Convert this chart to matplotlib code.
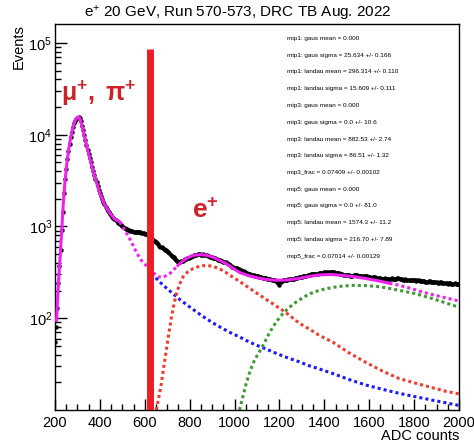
"""Muon/pion and e+ ADC spectrum from the DRC test beam with the Landau fit components."""

import numpy as np
from matplotlib import pyplot as plt
from matplotlib.ticker import MultipleLocator, LogLocator, FixedLocator

plt.rcParams['font.family'] = ['Liberation Sans', 'DejaVu Sans']
plt.rcParams['mathtext.fontset'] = 'custom'
plt.rcParams['mathtext.rm'] = 'Liberation Sans'
plt.rcParams['mathtext.it'] = 'Liberation Sans:italic'
plt.rcParams['mathtext.bf'] = 'Liberation Sans:bold'

# histogram, 10 ADC bins from 200 to 2000
ADC_START, ADC_STEP = 200, 10
COUNTS = [
    55, 128, 372, 905, 2330, 4280, 6650, 9350, 12050, 14250,
    15400, 15100, 12600, 9900, 7750, 6150, 5020, 4060, 3330, 2770,
    2290, 1990, 1760, 1560, 1430, 1320, 1240, 1170, 1100, 1060,
    1005, 962, 930, 905, 893, 878, 874, 865, 861, 848,
    838, 826, 800, 735, 702, 684, 640, 602, 583, 556,
    540, 510, 478, 462, 430, 408, 418, 425, 440, 452,
    462, 473, 486, 491, 502, 495, 497, 488, 481, 470,
    463, 452, 441, 428, 425, 414, 410, 394, 382, 364,
    356, 349, 345, 334, 326, 314, 306, 301, 296, 292,
    291, 284, 281, 274, 272, 266, 266, 261, 258, 251,
    232, 256, 261, 259, 266, 270, 268, 274, 276, 282,
    284, 291, 289, 297, 300, 302, 307, 306, 310, 313,
    316, 320, 314, 319, 322, 315, 312, 305, 301, 298,
    293, 296, 289, 294, 297, 290, 292, 288, 291, 286,
    283, 278, 285, 276, 271, 274, 268, 272, 266, 270,
    272, 265, 268, 275, 269, 263, 266, 262, 264, 258,
    261, 256, 259, 253, 256, 251, 249, 254, 247, 250,
    246, 243, 248, 241, 244, 239, 242, 237, 240, 236,
    238,
]
COUNTS_ALT = [
    80, 240, 560, 1450, 3300, 5400, 8000, 10700, 13300, 14900,
    15500, 14000, 11200, 8800, 6900, 5550, 4500, 3650, 3020, 2500,
    2130, 1870, 1650, 1490, 1370, 1280, 1200, 1135, 1080, 1030,
    985, 946, 918, 898, 886, 872, 869, 862, 852, 844,
    830, 815, 760, 718, 692, 662, 620, 592, 570, 548,
    525, 492, 470, 445, 418, 412, 422, 433, 446, 458,
    469, 480, 495, 498, 500, 490, 494, 484, 476, 468,
    457, 448, 434, 426, 420, 412, 402, 388, 373, 360,
    353, 347, 339, 330, 320, 310, 303, 298, 294, 290,
    287, 282, 278, 273, 269, 266, 263, 259, 255, 241,
    248, 258, 258, 264, 268, 267, 271, 275, 279, 283,
    288, 290, 295, 298, 303, 305, 306, 309, 312, 315,
    318, 317, 318, 323, 318, 312, 308, 303, 299, 296,
    294, 292, 292, 296, 293, 291, 290, 289, 288, 284,
    281, 282, 279, 273, 273, 271, 270, 269, 268, 271,
    268, 266, 272, 271, 266, 264, 264, 263, 261, 260,
    258, 258, 255, 255, 253, 250, 252, 250, 248, 248,
    244, 246, 244, 242, 241, 240, 239, 238, 238, 237,
]

# total fit, drawn in pieces (solid = fit range, dotted = outside)
FIT1_X = [207, 212, 218, 224, 230, 237, 244, 252, 260, 268, 276, 284, 292, 300, 307,
          314, 322, 330, 340, 350, 360, 370, 385, 400, 420, 444, 465, 489]
FIT1_Y = [95, 170, 310, 520, 900, 1800, 3000, 4700, 6700, 8800, 11000, 13000, 14600, 15500, 15600,
          14300, 12000, 9800, 7800, 6200, 5000, 4000, 3000, 2300, 1750, 1400, 1210, 1120]
FIT2_X = [489, 510, 535, 560, 580, 600, 620, 640, 660, 680, 700, 715, 730, 748]
FIT2_Y = [1120, 920, 720, 540, 440, 390, 345, 310, 283, 281, 293, 312, 340, 377]
FIT3_X = [748, 770, 790, 810, 830, 850, 870, 890, 910, 935, 963, 990, 1022, 1060, 1100,
          1140, 1185, 1230, 1280, 1330, 1380, 1430, 1480, 1530, 1585, 1640, 1690]
FIT3_Y = [377, 422, 455, 478, 490, 493, 488, 475, 455, 425, 393, 355, 316, 292, 276,
          265, 259, 261, 270, 285, 297, 300, 293, 284, 271, 256, 240]
FIT4_X = [1690, 1733, 1790, 1837, 1900, 1950, 1995]
FIT4_Y = [240, 229, 210, 193, 176, 165, 155]

# mip1 component (blue)
MIP1_X = [615, 630, 644, 667, 695, 726, 760, 800, 835, 874, 910, 948, 985, 1022, 1060,
          1096, 1133, 1170, 1207, 1244, 1289, 1330, 1378, 1437, 1510, 1585, 1660, 1733,
          1810, 1881, 1940, 2000]
MIP1_Y = [350, 320, 285, 248, 215, 185, 157, 133, 115, 99, 87, 77, 69, 62.6, 56,
          51, 47, 43, 39.5, 36.5, 33.5, 30.5, 28, 25, 21.5, 18.7, 16.8, 15.2,
          13.9, 12.8, 12, 11.2]

# mip3 component (red)
MIP3_X = [652, 663, 674, 685, 696, 707, 719, 730, 741, 755, 770, 792, 815, 845, 874,
          903, 933, 962, 992, 1035, 1081, 1125, 1170, 1210, 1244, 1289, 1330, 1378,
          1437, 1510, 1585, 1660, 1733, 1810, 1881, 1940, 2000]
MIP3_Y = [10, 14, 19.5, 30, 45, 68, 103, 142, 185, 235, 281, 322, 348, 370, 377,
          368, 346, 315, 281, 240, 201, 170, 144, 124, 108, 88, 77, 65,
          55, 42, 33, 26.5, 22, 19.5, 17.5, 16, 15]

# mip5 component (green)
MIP5_X = [1022, 1037, 1052, 1070, 1089, 1108, 1126, 1148, 1170, 1193, 1215, 1245, 1274,
          1305, 1333, 1378, 1437, 1480, 1526, 1580, 1630, 1680, 1740, 1807, 1870, 1930, 1995]
MIP5_Y = [10, 14, 19.5, 27, 35, 42, 50, 64, 80, 96, 112, 132, 150,
          168, 184, 202, 217, 224, 228, 227, 223, 214, 200, 185, 167, 150, 133]

# cut between mu/pi and e+
CUT_ADC = 622
CUT_TOP = 8.6e4

Y_MAJOR = [1e2, 1e3, 1e4, 1e5]

FIT_PARAMS = [
    "mip1: gaus mean = 0.000",
    "mip1: gaus sigma = 25.634 +/- 0.166",
    "mip1: landau mean = 296.314 +/- 0.110",
    "mip1: landau sigma = 15.609 +/- 0.111",
    "mip3: gaus mean = 0.000",
    "mip3: gaus sigma = 0.0 +/- 10.6",
    "mip3: landau mean = 882.53 +/- 2.74",
    "mip3: landau sigma = 86.51 +/- 1.32",
    "mip3_frac = 0.07409 +/- 0.00102",
    "mip5: gaus mean = 0.000",
    "mip5: gaus sigma = 0.0 +/- 81.0",
    "mip5: landau mean = 1574.3 +/- 11.2",
    "mip5: landau sigma = 216.70 +/- 7.89",
    "mip5_frac = 0.07014 +/- 0.00129",
]

W, H = 474, 444
DOTTED = (0, (1, 1))
MAGENTA = '#ee22ee'
LABEL_RED = '#cc2229'


def main():
    fig = plt.figure(figsize=(W / 100, H / 100), dpi=100)
    ax = fig.add_axes([55 / W, 1 - 410 / H, 404 / W, 386 / H])

    adc = ADC_START + ADC_STEP * np.arange(len(COUNTS))
    ax.plot(adc, COUNTS, 'o', color='black', ms=3.2, mew=0, zorder=3)
    ax.plot(adc[:len(COUNTS_ALT)] + ADC_STEP / 2, COUNTS_ALT, 'o', color='black',
            ms=3.2, mew=0, zorder=3)

    # components
    ax.plot(MIP1_X, MIP1_Y, color='#1a1aff', lw=2.2, ls=DOTTED, zorder=2)
    ax.plot(MIP3_X, MIP3_Y, color='#f03c2e', lw=2.2, ls=DOTTED, zorder=2)
    ax.plot(MIP5_X, MIP5_Y, color='#3f9a35', lw=2.2, ls=DOTTED, zorder=2)

    # total fit
    ax.plot(FIT1_X, FIT1_Y, color=MAGENTA, lw=2.2, zorder=4)
    ax.plot(FIT2_X, FIT2_Y, color=MAGENTA, lw=2.2, ls=DOTTED, zorder=4)
    ax.plot(FIT3_X, FIT3_Y, color=MAGENTA, lw=2.2, zorder=4)
    ax.plot(FIT4_X, FIT4_Y, color=MAGENTA, lw=2.2, ls=DOTTED, zorder=4)

    ax.plot([CUT_ADC, CUT_ADC], [10, CUT_TOP], color='#ee1c25', lw=5,
            solid_capstyle='butt', zorder=5)

    ax.set_yscale('log')
    ax.set_xlim(200, 2000)
    ax.set_ylim(10, 1.61e5)
    ax.xaxis.set_major_locator(MultipleLocator(200))
    ax.xaxis.set_minor_locator(MultipleLocator(50))
    ax.yaxis.set_major_locator(FixedLocator(Y_MAJOR))
    ax.yaxis.set_minor_locator(LogLocator(base=10, subs=np.arange(2, 10)))
    ax.set_yticklabels([r'$10^{%d}$' % round(np.log10(v)) for v in Y_MAJOR])
    ax.tick_params(which='both', direction='in', top=False, right=False,
                   labelsize=10.5, width=1)
    ax.tick_params(axis='x', which='major', length=8, pad=4)
    ax.tick_params(axis='x', which='minor', length=4)
    ax.tick_params(axis='y', which='major', length=8.5, pad=2)
    ax.tick_params(axis='y', which='minor', length=4.3)
    for s in ax.spines.values():
        s.set_linewidth(1)

    for i, line in enumerate(FIT_PARAMS):
        fig.text(287 / W, 1 - (38.5 + 16.75 * i) / H, line, fontsize=4.6,
                 ha='left', va='center')

    ax.text(0.016, 0.82, r'$\mathbf{\mu^{+},\ \pi^{+}}$', transform=ax.transAxes,
            fontsize=18, color=LABEL_RED, ha='left', va='center')
    ax.text(0.34, 0.515, r'$\mathbf{e^{+}}$', transform=ax.transAxes, fontsize=19,
            color=LABEL_RED, ha='left', va='center')

    fig.text(238 / W, 1 - 13 / H, r'e$^{+}$ 20 GeV, Run 570-573, DRC TB Aug. 2022',
             fontsize=11, ha='center', va='center')
    fig.text(19 / W, 1 - 24 / H, 'Events', rotation=90, fontsize=10.5,
             ha='center', va='top')
    fig.text(459 / W, 1 - 436 / H, 'ADC counts', fontsize=10.5,
             ha='right', va='center')

    fig.savefig('out.png', dpi=100)


if __name__ == "__main__":
    main()
